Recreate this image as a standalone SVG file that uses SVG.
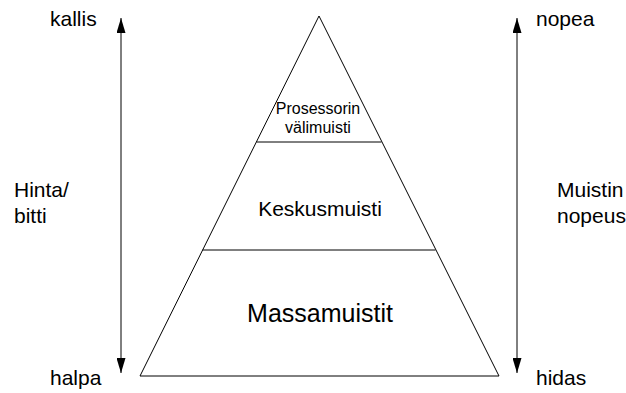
<svg xmlns="http://www.w3.org/2000/svg" width="626" height="393" viewBox="0 0 626 393">
<style>
text{font-family:"Liberation Sans",Arial,sans-serif;fill:#000}
.lbl{font-size:21px}
.ln{stroke:#000;stroke-width:1;fill:none}
</style>
<defs>
<marker id="ah" viewBox="0 0 15 9" refX="15" refY="4.5" markerWidth="15" markerHeight="9" markerUnits="userSpaceOnUse" orient="auto-start-reverse">
<path d="M0,0 L15,4.5 L0,9 Z" fill="#000"/>
</marker>
</defs>
<rect width="626" height="393" fill="#fff"/>
<g id="pyramid">
<polygon class="ln" points="319,16 140,376 499,376"/>
<line class="ln" x1="256.5" y1="142" x2="381.5" y2="142"/>
<line class="ln" x1="202.5" y1="250" x2="435.5" y2="250"/>
</g>
<g id="cache"><text x="318" y="114" text-anchor="middle" font-size="16">Prosessorin</text><text x="318" y="133" text-anchor="middle" font-size="16">välimuisti</text></g>
<g id="main"><text x="320" y="216" text-anchor="middle" font-size="21">Keskusmuisti</text></g>
<g id="mass"><text x="320" y="322" text-anchor="middle" font-size="25">Massamuistit</text></g>
<g id="connectors">
<line class="ln" x1="121" y1="18" x2="121" y2="373" marker-start="url(#ah)" marker-end="url(#ah)"/>
<line class="ln" x1="517" y1="18" x2="517" y2="373" marker-start="url(#ah)" marker-end="url(#ah)"/>
</g>
<g id="labels">
<text class="lbl" x="50" y="26">kallis</text>
<text class="lbl" x="50" y="385">halpa</text>
<text class="lbl" x="536" y="26">nopea</text>
<text class="lbl" x="536" y="385">hidas</text>
<text class="lbl" x="14" y="197">Hinta/</text>
<text class="lbl" x="14" y="223">bitti</text>
<text class="lbl" x="557" y="197">Muistin</text>
<text class="lbl" x="557" y="223">nopeus</text>
</g>
</svg>
